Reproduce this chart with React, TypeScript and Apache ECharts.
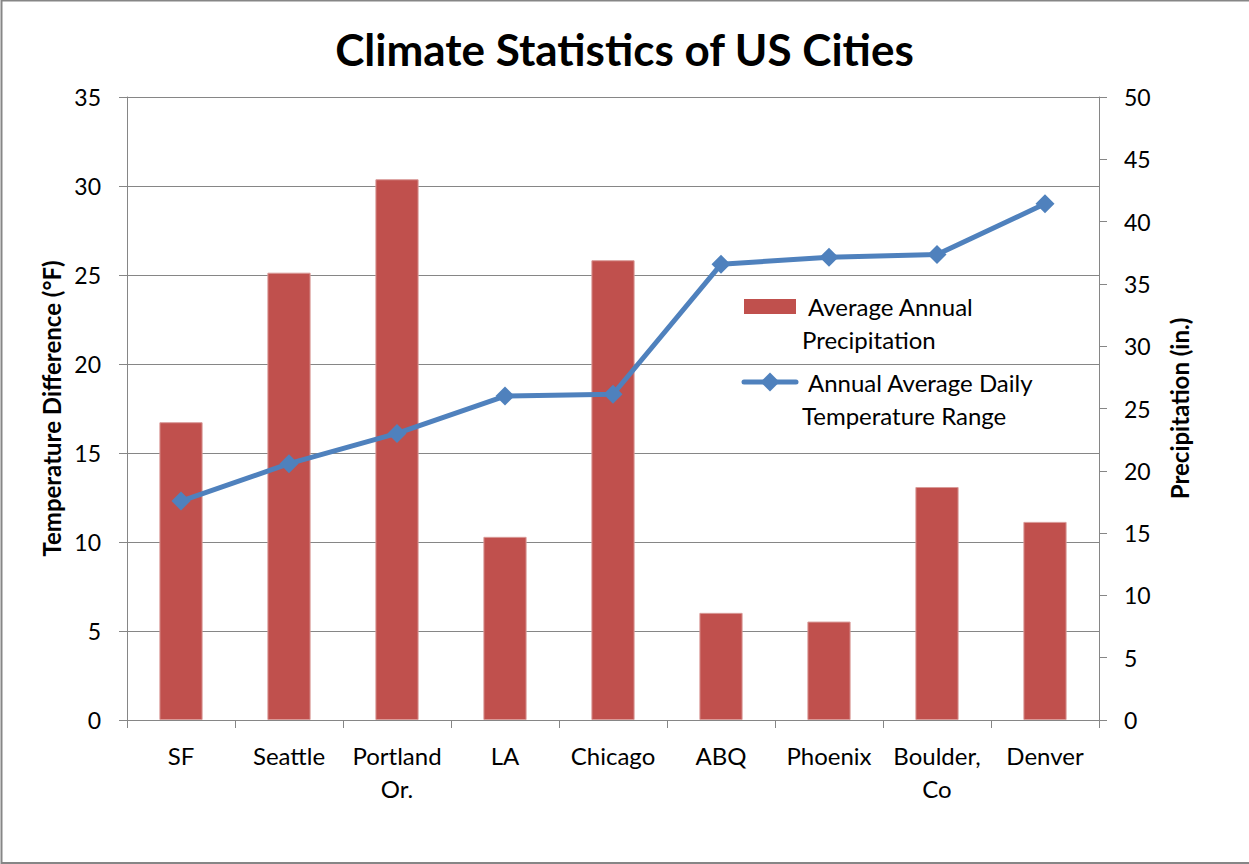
import React, { useEffect, useRef } from "react";
import * as echarts from "echarts";

const cities = ["SF", "Seattle", "Portland Or.", "LA", "Chicago", "ABQ", "Phoenix", "Boulder, Co", "Denver"];
const precipitation = [23.9, 35.9, 43.4, 14.7, 36.9, 8.6, 7.9, 18.7, 15.9];
const tempRange = [12.3, 14.4, 16.1, 18.2, 18.3, 25.6, 26.0, 26.15, 29.0];

const titleText = "Climate Statistics of US Cities";
const leftAxisName = "Temperature Difference (°F)";
const rightAxisName = "Precipitation (in.)";
const barName = "Average Annual Precipitation";
const lineName = "Annual Average Daily Temperature Range";

const FONT = "Lato, 'Open Sans', sans-serif";
const RED = "#C0504D";
const BLUE = "#4F81BD";
const GRAY = "#868686";

export default function App() {
  const ref = useRef<HTMLDivElement>(null);
  useEffect(() => {
    document.body.style.margin = "0";
    const chart = echarts.init(ref.current!, null, { renderer: "svg" });
    chart.setOption({
      animation: false,
      backgroundColor: "#ffffff",
      title: {
        text: titleText,
        left: "center",
        top: 22,
        textStyle: { fontFamily: FONT, fontSize: 44, fontWeight: "bold", color: "#000" },
      },
      grid: { left: 127, right: 150, top: 97, bottom: 144, containLabel: false },
      xAxis: {
        type: "category",
        data: cities,
        axisLine: { lineStyle: { color: GRAY, width: 1 } },
        axisTick: { show: true, length: 8, lineStyle: { color: GRAY } },
        axisLabel: {
          color: "#000",
          fontFamily: FONT,
          fontSize: 24,
          margin: 19,
          lineHeight: 33,
          interval: 0,
          formatter: (v: string) => (v.length > 10 ? v.replace(" ", "\n") : v),
        },
      },
      yAxis: [
        {
          type: "value",
          min: 0,
          max: 35,
          interval: 5,
          position: "left",
          name: leftAxisName,
          nameLocation: "middle",
          nameRotate: 90,
          nameGap: 64,
          nameTextStyle: { fontFamily: FONT, fontSize: 24, fontWeight: "bold", color: "#000" },
          axisLine: { show: true, lineStyle: { color: GRAY, width: 1 } },
          axisTick: { show: true, length: 8, lineStyle: { color: GRAY } },
          axisLabel: { color: "#000", fontFamily: FONT, fontSize: 23, margin: 26 },
          splitLine: { show: true, lineStyle: { color: GRAY, width: 1 } },
        },
        {
          type: "value",
          min: 0,
          max: 50,
          interval: 5,
          position: "right",
          name: rightAxisName,
          nameLocation: "middle",
          nameRotate: 90,
          nameGap: 68,
          nameTextStyle: { fontFamily: FONT, fontSize: 24, fontWeight: "bold", color: "#000" },
          axisLine: { show: true, lineStyle: { color: GRAY, width: 1 } },
          axisTick: { show: true, length: 8, lineStyle: { color: GRAY } },
          axisLabel: { color: "#000", fontFamily: FONT, fontSize: 23, margin: 25 },
          splitLine: { show: false },
        },
      ],
      series: [
        {
          name: barName,
          type: "bar",
          yAxisIndex: 1,
          data: precipitation,
          barWidth: "40%",
          itemStyle: { color: RED, borderColor: "#D99A98", borderWidth: 1 },
          z: 2,
        },
        {
          name: lineName,
          type: "line",
          yAxisIndex: 0,
          data: tempRange,
          symbol: "diamond",
          symbolSize: 19,
          lineStyle: { color: BLUE, width: 5 },
          itemStyle: { color: BLUE },
          z: 3,
        },
      ],
      graphic: [
        {
          type: "rect",
          shape: { x: 1.5, y: 0.5, width: 1260, height: 862.5 },
          style: { fill: "none", stroke: GRAY, lineWidth: 2 },
          silent: true,
        },
        { type: "rect", shape: { x: 744, y: 299, width: 52, height: 15 }, style: { fill: RED } },
        {
          type: "text",
          x: 808,
          y: 306,
          style: { text: "Average Annual", font: `24px ${FONT}`, fill: "#000", textVerticalAlign: "middle" },
        },
        {
          type: "text",
          x: 802,
          y: 339,
          style: { text: "Precipitation", font: `24px ${FONT}`, fill: "#000", textVerticalAlign: "middle" },
        },
        {
          type: "line",
          shape: { x1: 744, y1: 382, x2: 796, y2: 382 },
          style: { stroke: BLUE, lineWidth: 5, lineCap: "round" },
        },
        {
          type: "polygon",
          shape: { points: [[770, 372.5], [779.5, 382], [770, 391.5], [760.5, 382]] },
          style: { fill: BLUE },
        },
        {
          type: "text",
          x: 808,
          y: 382,
          style: { text: "Annual Average Daily", font: `24px ${FONT}`, fill: "#000", textVerticalAlign: "middle" },
        },
        {
          type: "text",
          x: 802,
          y: 415,
          style: { text: "Temperature Range", font: `24px ${FONT}`, fill: "#000", textVerticalAlign: "middle" },
        },
      ],
    });
    return () => chart.dispose();
  }, []);
  return <div ref={ref} style={{ position: "fixed", left: 0, top: 0, width: 1249, height: 864 }} />;
}
